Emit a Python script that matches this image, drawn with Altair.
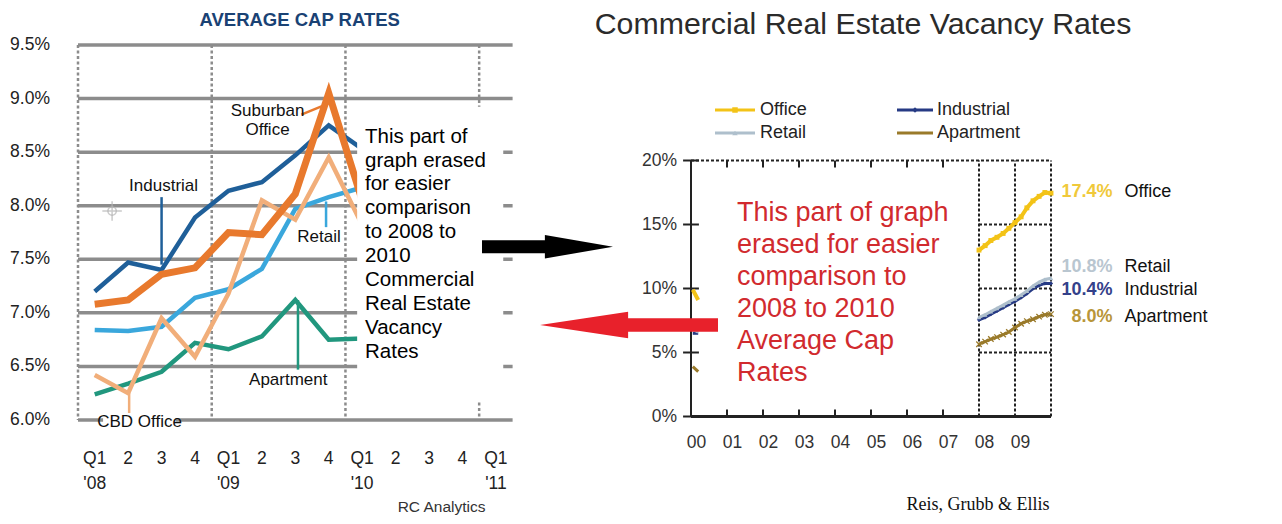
import altair as alt
import pandas as pd

# ---------------- LEFT: Average Cap Rates (quarterly, Q1'08 .. Q1'10) ----------------
cap_quarters = [0, 1, 2, 3, 4, 5, 6, 7, 8]
cap_industrial = [7.20, 7.47, 7.40, 7.89, 8.14, 8.22, 8.47, 8.75, 8.53]
cap_suburban_office = [7.08, 7.12, 7.36, 7.42, 7.75, 7.73, 8.11, 9.05, 8.05]
cap_cbd_office = [6.42, 6.25, 6.95, 6.59, 7.18, 8.05, 7.87, 8.45, 7.82]
cap_retail = [6.84, 6.83, 6.87, 7.14, 7.22, 7.41, 7.97, 8.08, 8.17]
cap_apartment = [6.24, 6.34, 6.45, 6.72, 6.66, 6.78, 7.12, 6.75, 6.76]

cap_ticks = [6.0, 6.5, 7.0, 7.5, 8.0, 8.5, 9.0, 9.5]
cap_tick_labels = ["6.0%", "6.5%", "7.0%", "7.5%", "8.0%", "8.5%", "9.0%", "9.5%"]
quarter_labels = ["Q1", "2", "3", "4", "Q1", "2", "3", "4", "Q1", "2", "3", "4", "Q1"]
year_labels = ["'08", "'09", "'10", "'11"]
year_label_quarters = [0, 4, 8, 12]

# ---------------- RIGHT: Commercial Real Estate Vacancy Rates ----------------
vac_years = [2008.0, 2008.17, 2008.33, 2008.5, 2008.67, 2008.83, 2009.0,
             2009.17, 2009.33, 2009.5, 2009.67, 2009.83, 2010.0]
vac_office = [13.0, 13.35, 13.75, 14.0, 14.3, 14.7, 15.15, 15.6, 16.3, 16.85, 17.2, 17.5, 17.45]
vac_retail = [7.75, 7.95, 8.2, 8.45, 8.7, 8.95, 9.2, 9.5, 9.8, 10.2, 10.5, 10.7, 10.8]
vac_industrial = [7.55, 7.75, 8.0, 8.25, 8.5, 8.75, 9.0, 9.3, 9.6, 10.0, 10.25, 10.4, 10.4]
vac_apartment = [5.65, 5.85, 6.05, 6.2, 6.4, 6.6, 6.95, 7.25, 7.45, 7.6, 7.8, 7.95, 8.0]
# remnants left of the erased part (year 2000)
stub_years = [2000.05, 2000.2]
stub_office = [9.9, 9.1]
stub_retail = [6.8, 6.6]
stub_industrial = [6.5, 6.5]
stub_apartment = [3.9, 3.5]

vac_ticks = [0, 5, 10, 15, 20]
vac_tick_labels = ["0%", "5%", "10%", "15%", "20%"]
vac_year_ticks = [2000, 2001, 2002, 2003, 2004, 2005, 2006, 2007, 2008, 2009]
vac_year_labels = ["00", "01", "02", "03", "04", "05", "06", "07", "08", "09"]
vac_series = ["Office", "Industrial", "Retail", "Apartment"]
vac_end_labels = ["17.4%", "10.4%", "10.8%", "8.0%"]

# ---------------- styles ----------------
NARROW = "Liberation Sans, Arial"
SANS = "Liberation Sans, Arial"
SERIF = "Liberation Serif, Times New Roman"
GRID = "#8c8c8c"
C_IND, C_SUB, C_CBD, C_RET, C_APT = "#1f5f99", "#e8792d", "#f1ae7a", "#3aa7dc", "#21977e"
V_OFF, V_IND, V_RET, V_APT = "#f3c317", "#263a84", "#aebfcc", "#9a7a2a"
V_LAB = {"Office": "#f0c93a", "Industrial": "#34418a", "Retail": "#b9c6d0", "Apartment": "#b8963a"}


def LX(f):
    return alt.X(f + ":Q", scale=alt.Scale(domain=[-0.5, 12.5], range=[70.0, 504.6], nice=False, zero=False), axis=None)


def LY(f):
    return alt.Y(f + ":Q", scale=alt.Scale(domain=[6.0, 9.5], range=[412, 37], nice=False, zero=False), axis=None)


def RX(f):
    return alt.X(f + ":Q", scale=alt.Scale(domain=[2000, 2010], range=[683, 1043], nice=False, zero=False), axis=None)


def RY(f):
    return alt.Y(f + ":Q", scale=alt.Scale(domain=[0, 20], range=[408.5, 152.5], nice=False, zero=False), axis=None)


def PX(f):
    return alt.X(f + ":Q", scale=None, axis=None)


def PY(f):
    return alt.Y(f + ":Q", scale=None, axis=None)


def ptext(text, x, y, size, font=SANS, color="#000", align="center", weight="normal", lh=None):
    # y is the middle of the first line
    props = dict(font=font, fontSize=size, color=color, align=align, baseline="middle",
                 fontWeight=weight, lineBreak="\n")
    if lh:
        props["lineHeight"] = lh
    return alt.Chart(pd.DataFrame({"t": [text]})).mark_text(**props).encode(
        text="t:N", x=alt.value(x), y=alt.value(y))


layers = []

# ===== LEFT CHART =====
layers.append(alt.Chart(pd.DataFrame({"v": cap_ticks})).mark_rule(color=GRID, strokeWidth=3.5).encode(
    y=LY("v"), x=alt.value(70.0), x2=alt.value(504.6)))
layers.append(alt.Chart(pd.DataFrame({"q": [-0.5, 3.5, 7.5, 11.5]})).mark_rule(
    color=GRID, strokeWidth=2.5, strokeDash=[3, 2.5]).encode(x=LX("q"), y=alt.value(37), y2=alt.value(412)))
# white background behind the "CBD Office" label
layers.append(alt.Chart(pd.DataFrame({"x1": [0.25], "x2": [2.42], "y1": [5.94], "y2": [6.06]})).mark_rect(
    color="white").encode(x=LX("x1"), x2="x2", y=LY("y1"), y2="y2"))


def cap_line(vals, color, width):
    df = pd.DataFrame({"q": cap_quarters, "v": vals})
    return alt.Chart(df).mark_line(color=color, strokeWidth=width, strokeJoin="miter",
                                   strokeMiterLimit=10).encode(x=LX("q"), y=LY("v"))


layers += [cap_line(cap_apartment, C_APT, 4.5), cap_line(cap_retail, C_RET, 4.5),
           cap_line(cap_cbd_office, C_CBD, 4.5), cap_line(cap_industrial, C_IND, 4.5),
           cap_line(cap_suburban_office, C_SUB, 7)]

# erased area of the cap-rate chart
layers.append(alt.Chart(pd.DataFrame({"x1": [7.85], "x2": [12.22], "y1": [6.17], "y2": [8.924]})).mark_rect(
    color="white").encode(x=LX("x1"), x2="x2", y=LY("y1"), y2="y2"))

# leader lines and series labels
leaders = pd.DataFrame({
    "s": ["Industrial", "Suburban Office", "Retail", "Apartment", "CBD Office"],
    "x1": [2.0, 6.18, 6.92, 6.08, 1.03], "x2": [2.0, 6.80, 6.92, 6.08, 1.03],
    "y1": [8.08, 8.85, 8.04, 7.12, 6.25], "y2": [7.45, 8.93, 7.80, 6.47, 6.065]})
layers.append(alt.Chart(leaders).mark_rule(strokeWidth=2.5).encode(
    x=LX("x1"), x2="x2", y=LY("y1"), y2="y2",
    color=alt.Color("s:N", scale=alt.Scale(domain=list(leaders["s"]), range=[C_IND, C_SUB, C_RET, C_APT, C_CBD]),
                    legend=None)))
labels = pd.DataFrame({"t": ["Industrial", "Suburban\nOffice", "Retail", "Apartment", "CBD Office"],
                       "q": [2.06, 5.17, 6.71, 5.79, 1.34], "v": [8.184, 8.884, 7.708, 6.373, 5.981]})
layers.append(alt.Chart(labels).mark_text(font=NARROW, fontSize=17, lineHeight=19, lineBreak="\n",
                                          color="#111").encode(x=LX("q"), y=LY("v"), text="t:N"))

# cursor icon
layers.append(alt.Chart(pd.DataFrame({"q": [0.52], "v": [7.95]})).mark_point(
    shape="circle", size=70, color="#b5b5b5", strokeWidth=1.5).encode(x=LX("q"), y=LY("v")))
layers.append(alt.Chart(pd.DataFrame({"q": [0.52], "v": [7.95]})).mark_point(
    shape="M-1,0L1,0M0,-1L0,1", size=380, color="#b5b5b5", strokeWidth=1.5).encode(x=LX("q"), y=LY("v")))

# axis labels
layers.append(alt.Chart(pd.DataFrame({"v": cap_ticks, "t": cap_tick_labels})).mark_text(
    font=NARROW, fontSize=17.5, align="right", color="#222").encode(y=LY("v"), x=alt.value(42), text="t:N"))
layers.append(alt.Chart(pd.DataFrame({"q": list(range(13)), "t": quarter_labels})).mark_text(
    font=NARROW, fontSize=17.5, color="#222").encode(x=LX("q"), y=alt.value(451), text="t:N"))
layers.append(alt.Chart(pd.DataFrame({"q": year_label_quarters, "t": year_labels})).mark_text(
    font=NARROW, fontSize=17.5, color="#222").encode(x=LX("q"), y=alt.value(476), text="t:N"))

layers.append(ptext("AVERAGE CAP RATES", 291.7, 12, 18.5, font=NARROW, color="#1a4274", weight="bold"))
layers.append(ptext("RC Analytics", 433.6, 498.7, 15.5, font=NARROW, color="#333"))
layers.append(ptext("This part of\ngraph erased\nfor easier\ncomparison\nto 2008 to\n2010\nCommercial\n"
                    "Real Estate\nVacancy\nRates", 357, 128.7, 20.5, align="left", lh=23.9))

# ===== RIGHT CHART =====
DK = "#222"
layers.append(alt.Chart(pd.DataFrame({"x": [2000], "y1": [0], "y2": [20]})).mark_rule(
    color=DK, strokeWidth=2).encode(x=RX("x"), y=RY("y1"), y2="y2"))
dotted_v = pd.DataFrame({"x": [2008, 2009, 2010], "y1": [0, 0, 0], "y2": [20, 20, 20]})
layers.append(alt.Chart(dotted_v).mark_rule(color=DK, strokeWidth=2, strokeDash=[3, 2]).encode(
    x=RX("x"), y=RY("y1"), y2="y2"))
dotted_h = pd.DataFrame({"y": [5, 10, 15, 20], "x1": [2008, 2008, 2008, 2000], "x2": [2010, 2010, 2010, 2010]})
layers.append(alt.Chart(dotted_h).mark_rule(color=DK, strokeWidth=2, strokeDash=[3, 2]).encode(
    y=RY("y"), x=RX("x1"), x2="x2"))
layers.append(alt.Chart(pd.DataFrame({"y": [0], "x1": [2000], "x2": [2010]})).mark_rule(
    color=DK, strokeWidth=3).encode(y=RY("y"), x=RX("x1"), x2="x2"))
ytk = pd.DataFrame({"y": vac_ticks, "x1": [1999.78] * 5, "x2": [2000.22] * 5})
layers.append(alt.Chart(ytk).mark_rule(color=DK, strokeWidth=2).encode(y=RY("y"), x=RX("x1"), x2="x2"))
xtk = pd.DataFrame({"x": [2001, 2002, 2003, 2004, 2005, 2006, 2007] * 2,
                    "y1": [0] * 7 + [20] * 7, "y2": [0.55] * 7 + [19.45] * 7})
layers.append(alt.Chart(xtk).mark_rule(color=DK, strokeWidth=2).encode(x=RX("x"), y=RY("y1"), y2="y2"))

layers.append(alt.Chart(pd.DataFrame({"v": vac_ticks, "t": vac_tick_labels})).mark_text(
    font=SANS, fontSize=17.5, align="right", color="#333").encode(y=RY("v"), x=alt.value(669), text="t:N"))
layers.append(alt.Chart(pd.DataFrame({"x": vac_year_ticks, "t": vac_year_labels})).mark_text(
    font=SANS, fontSize=17.5, color="#333", dx=5.5).encode(x=RX("x"), y=alt.value(435.3), text="t:N"))


def vac_line(vals, stub, color, width, shape, size, filled=True):
    df = pd.DataFrame({"x": stub_years + vac_years, "v": stub + vals,
                       "seg": ["a"] * len(stub_years) + ["b"] * len(vac_years)})
    line = alt.Chart(df).mark_line(color=color, strokeWidth=width).encode(
        x=RX("x"), y=RY("v"), detail="seg:N")
    pdf = pd.DataFrame({"x": vac_years, "v": vals})
    pts = alt.Chart(pdf).mark_point(shape=shape, size=size, filled=filled, color=color,
                                    strokeWidth=1.3, opacity=1).encode(x=RX("x"), y=RY("v"))
    return [line, pts]


XSHAPE = "M-1,-1L1,1M-1,1L1,-1"
layers += vac_line(vac_apartment, stub_apartment, V_APT, 3, XSHAPE, 30, filled=False)
layers += vac_line(vac_industrial, stub_industrial, V_IND, 3, "diamond", 18)
layers += vac_line(vac_retail, stub_retail, V_RET, 3, "triangle-up", 22)
layers += vac_line(vac_office, stub_office, V_OFF, 4, "square", 24)

# end labels
end_df = pd.DataFrame({"s": vac_series, "t": vac_end_labels, "y": [183.7, 282, 258.7, 308.7]})
layers.append(alt.Chart(end_df).mark_text(font=SANS, fontSize=18, fontWeight="bold", align="right").encode(
    x=alt.value(1104.5), y=PY("y"), text="t:N",
    color=alt.Color("s:N", scale=alt.Scale(domain=vac_series, range=[V_LAB[s] for s in vac_series]), legend=None)))
layers.append(alt.Chart(end_df).mark_text(font=SANS, fontSize=18, align="left", color="#111").encode(
    x=alt.value(1116.5), y=PY("y"), text="s:N"))

# legend
leg = pd.DataFrame({"s": vac_series, "x1": [707, 889, 707, 889], "x2": [747, 925, 747, 925],
                    "y": [102, 102, 125, 125], "lx": [752, 929, 752, 929]})
leg["xm"] = (leg["x1"] + leg["x2"]) / 2
legc = alt.Color("s:N", scale=alt.Scale(domain=vac_series, range=[V_OFF, V_IND, V_RET, V_APT]), legend=None)
layers.append(alt.Chart(leg).mark_rule(strokeWidth=3).encode(x=PX("x1"), x2="x2", y=PY("y"), color=legc))
layers.append(alt.Chart(leg).mark_point(filled=True, size=30, opacity=1, strokeWidth=1.3).encode(
    x=PX("xm"), y=PY("y"), color=legc, fill=legc,
    shape=alt.Shape("s:N", scale=alt.Scale(domain=vac_series, range=["square", "diamond", "triangle-up", XSHAPE]),
                    legend=None)))
layers.append(alt.Chart(leg).mark_text(font=SANS, fontSize=18, align="left", color="#222").encode(
    x=PX("lx"), y=PY("y"), text="s:N"))

layers.append(ptext("Commercial Real Estate Vacancy Rates", 855, 17, 30.3, color="#2b2b2b"))
layers.append(ptext("This part of graph\nerased for easier\ncomparison to\n2008 to 2010\nAverage Cap\nRates",
                    729, 205.3, 27, color="#d12a2e", align="left", lh=32))
layers.append(ptext("Reis, Grubb & Ellis", 970, 497, 18, font=SERIF, color="#111"))

# arrows
BLACK_ARROW = "M-1,-0.1L-0.04,-0.1L-0.04,-0.18L1,0L-0.04,0.18L-0.04,0.1L-1,0.1Z"
RED_ARROW = "M-1,0L-0.01,-0.15L-0.01,-0.075L1,-0.075L1,0.075L-0.01,0.075L-0.01,0.15Z"
layers.append(alt.Chart(pd.DataFrame({"a": ["black"]})).mark_point(
    shape=BLACK_ARROW, size=131 * 131, filled=True, color="#000", opacity=1).encode(
    x=alt.value(539.5), y=alt.value(238.7)))
layers.append(alt.Chart(pd.DataFrame({"a": ["red"]})).mark_point(
    shape=RED_ARROW, size=178 * 178, filled=True, color="#e8212b", opacity=1).encode(
    x=alt.value(621), y=alt.value(317)))

chart = alt.layer(*layers).resolve_scale(
    x="independent", y="independent", color="independent", shape="independent", fill="independent"
).properties(width=1266, height=508, autosize=alt.AutoSizeParams(type="none"), padding=0
).configure_view(stroke=None)

chart.save("out.html", embed_options={"renderer": "svg", "actions": False})
